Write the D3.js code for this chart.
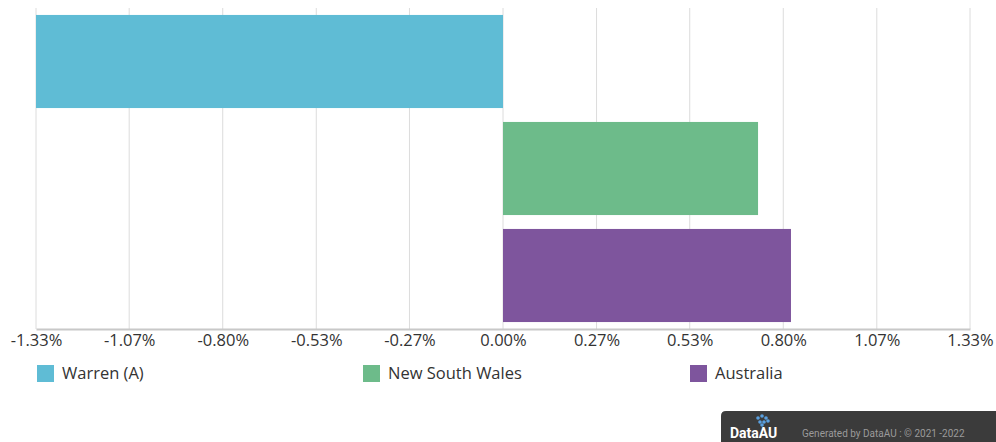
<!DOCTYPE html>
<html><head><meta charset="utf-8">
<script src="https://cdn.jsdelivr.net/npm/d3@7"></script>
<style>
body{margin:0;background:#fff;}
svg{display:block;font-family:"Open Sans","Noto Sans",sans-serif;}
</style></head>
<body><svg id="c" width="996" height="442"></svg>
<script>
const categories = ["Warren (A)", "New South Wales", "Australia"];
const values = [-1.333, 0.728, 0.822];
const colors = ["#5fbcd5", "#6dbb8a", "#7e559d"];
const tickValues = [-1.333, -1.067, -0.8, -0.533, -0.267, 0, 0.267, 0.533, 0.8, 1.067, 1.333];
const tickLabels = ["-1.33%","-1.07%","-0.80%","-0.53%","-0.27%","0.00%","0.27%","0.53%","0.80%","1.07%","1.33%"];

(function(){
const svg = d3.select("#c");
const mL = 36, mR = 970, mT = 8, mB = 329;
const x = d3.scaleLinear().domain([-1.333, 1.333]).range([mL, mR]);
const y = d3.scaleBand().domain(categories).range([mT, mB]).paddingInner(0.13).paddingOuter(0.065);

svg.append("g").selectAll("line").data(tickValues).join("line")
  .attr("x1", d => x(d)).attr("x2", d => x(d))
  .attr("y1", mT).attr("y2", mB)
  .attr("stroke", "#dcdcdc").attr("stroke-width", 1);

svg.append("g").selectAll("rect").data(categories).join("rect")
  .attr("x", (d,i) => x(Math.min(0, values[i])))
  .attr("width", (d,i) => Math.abs(x(values[i]) - x(0)))
  .attr("y", d => y(d))
  .attr("height", y.bandwidth())
  .attr("fill", (d,i) => colors[i]);

const axis = d3.axisBottom(x).tickValues(tickValues).tickSize(0).tickFormat((d,i) => tickLabels[i]);
const ag = svg.append("g").attr("transform", `translate(0,${mB})`).call(axis);
ag.select(".domain").attr("stroke", "#c8c8c8").attr("stroke-width", 2);
ag.selectAll("text").attr("font-size", 16.5).attr("fill", "#333").attr("dy", "0.85em")
  .attr("font-family", '"Open Sans","Noto Sans",sans-serif');

const legendX = [37, 363, 690];
const lg = svg.append("g").selectAll("g").data(categories).join("g")
  .attr("transform", (d,i) => `translate(${legendX[i]},365)`);
lg.append("rect").attr("width", 17).attr("height", 17).attr("fill", (d,i) => colors[i]);
lg.append("text").attr("x", 25).attr("y", 14).attr("font-size", 16.5).attr("fill", "#333").text(d => d);

const f = svg.append("g").attr("transform", "translate(721,411)");
f.append("path").attr("d", "M0,31 V5 Q0,0 5,0 H275 V31 Z").attr("fill", "#3b3b3b");
f.append("text").attr("x", 9).attr("y", 27).attr("font-size", 14).attr("font-weight", "bold")
  .attr("fill", "#fff").attr("font-family", "Roboto, sans-serif").text("DataAU");
f.append("g").attr("transform","translate(37,7)").selectAll("circle")
  .data([[0,0],[4,-2],[8,0],[2,4],[6,4],[10,3],[4,7]]).join("circle")
  .attr("cx", d => d[0]).attr("cy", d => d[1]).attr("r", 1.8).attr("fill", "#5aa0e0");
f.append("text").attr("x", 81).attr("y", 26).attr("font-size", 10).attr("fill", "#9a9a9a")
  .attr("font-family", "Roboto, sans-serif").text("Generated by DataAU : © 2021 -2022");
})();
</script></body></html>
